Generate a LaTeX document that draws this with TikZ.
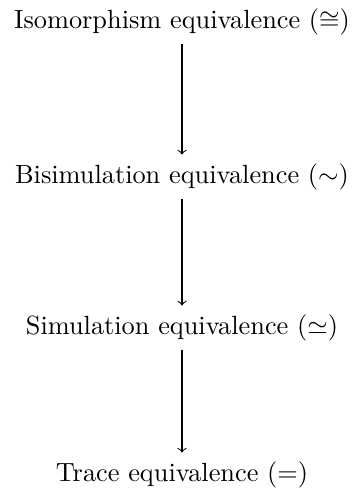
\documentclass[tikz,border=0pt]{standalone}
\usepackage{amssymb}
\begin{document}
\begin{tikzpicture}[x=0.38pt,y=-0.38pt,
  eq/.style={inner sep=3.33pt},
  arr/.style={->}]
\useasboundingbox (0,0) rectangle (354,492);
\node[eq] (iso) at (182,22) {Isomorphism equivalence ($\cong$)};
\node[eq] (bis) at (182,177) {Bisimulation equivalence ($\sim$)};
\node[eq] (sim) at (182,328) {Simulation equivalence ($\simeq$)};
\node[eq] (tr) at (182,475) {Trace equivalence ($=$)};
\draw[arr] (iso) -- (bis);
\draw[arr] (bis) -- (sim);
\draw[arr] (sim) -- (tr);
\end{tikzpicture}
\end{document}
